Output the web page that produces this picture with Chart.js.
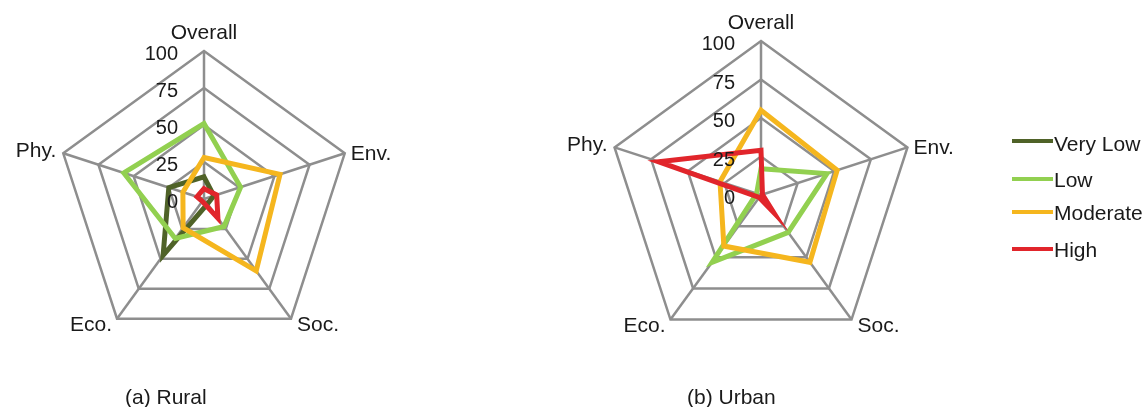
<!DOCTYPE html>
<html>
<head>
<meta charset="utf-8">
<script src="https://cdn.jsdelivr.net/npm/chart.js@4.4.1/dist/chart.umd.min.js"></script>
<style>
  html, body { margin: 0; padding: 0; background: #ffffff; }
  #wrap { position: relative; width: 1146px; height: 407px; overflow: hidden;
          font-family: "Liberation Sans", Arial, sans-serif; color: #1a1a1a; }
  #wrap canvas { position: absolute; left: 0; top: 0; pointer-events: none; }
  .caption { position: absolute; font-size: 21px; line-height: 21px; white-space: nowrap; }
  .legend-row { position: absolute; left: 1012px; height: 21px; font-size: 21px; line-height: 21px; white-space: nowrap; }
  .legend-row .swatch { position: absolute; left: 0; width: 41px; height: 4px; }
  .legend-row .name { position: absolute; left: 42px; top: 0; }
</style>
</head>
<body>
<div id="wrap">
  <canvas id="rural" width="1146" height="407"></canvas>
  <canvas id="urban" width="1146" height="407"></canvas>
  <div class="caption" style="left:125px; top:386px;">(a) Rural</div>
  <div class="caption" style="left:687px; top:386px;">(b) Urban</div>
  <div id="legend"></div>
</div>
<script>
// Axes of the pentagon, clockwise from the top
const categories = ['Overall', 'Env.', 'Soc.', 'Eco.', 'Phy.'];
const tickValues = [0, 25, 50, 75, 100];
const seriesNames = ['Very Low', 'Low', 'Moderate', 'High'];
const seriesColors = ['#4f6228', '#92d050', '#f5b61e', '#e1252b'];

// Rural scores by class
const ruralVeryLow = [15, 7, 4, 47, 25];
const ruralLow = [51, 26, 23, 33, 57];
const ruralModerate = [28, 54, 60, 24, 15];
const ruralHigh = [7, 9, 16, 2, 5];

// Urban scores by class (no Very Low class)
const urbanVeryLow = [null, null, null, null, null];
const urbanLow = [17, 45, 30, 54, 3];
const urbanModerate = [55, 52, 54, 41, 28];
const urbanHigh = [29, 1, 14, 2, 70];

const gridColor = '#8e8e8e';
const textColor = '#1a1a1a';
const textFont = '"Liberation Sans", Arial, sans-serif';

// Where each axis title sits relative to its outer vertex
const labelPlacement = [
  { align: 'center', dx: 0, dy: -12.5 },
  { align: 'left', dx: 6, dy: 6.5 },
  { align: 'left', dx: 6, dy: 12.6 },
  { align: 'right', dx: -5, dy: 12.6 },
  { align: 'right', dx: -7, dy: 3.5 }
];

// Axis titles and the 0–100 scale printed beside the vertical axis
const axisText = {
  id: 'axisText',
  afterDatasetsDraw(chart) {
    const s = chart.scales.r;
    const ctx = chart.ctx;
    ctx.save();
    ctx.fillStyle = textColor;
    ctx.textBaseline = 'alphabetic';
    ctx.font = '21px ' + textFont;
    categories.forEach((label, i) => {
      const p = s.getPointPosition(i, s.drawingArea);
      const o = labelPlacement[i];
      ctx.textAlign = o.align;
      ctx.fillText(label, p.x + o.dx, p.y + o.dy);
    });
    ctx.font = '20px ' + textFont;
    ctx.textAlign = 'right';
    tickValues.forEach(v => {
      const y = s.yCenter - s.getDistanceFromCenterForValue(v);
      ctx.fillText(String(v), s.xCenter - 26, y + 9);
    });
    ctx.restore();
  }
};

function makeDatasets(rows) {
  return rows.map((vals, i) => ({
    label: seriesNames[i],
    data: vals,
    borderColor: seriesColors[i],
    backgroundColor: seriesColors[i],
    borderWidth: 5,
    fill: false,
    tension: 0,
    pointRadius: 0,
    pointHoverRadius: 0,
    order: rows.length - i
  }));
}

function makeRadar(id, rows, padding) {
  return new Chart(document.getElementById(id), {
    type: 'radar',
    data: { labels: categories, datasets: makeDatasets(rows) },
    options: {
      responsive: false,
      animation: false,
      events: [],
      layout: { padding },
      plugins: { legend: { display: false }, tooltip: { enabled: false } },
      scales: {
        r: {
          min: 0,
          max: 100,
          ticks: { stepSize: 25, display: false },
          pointLabels: { display: false },
          grid: { color: gridColor, lineWidth: 2.5 },
          angleLines: { color: gridColor, lineWidth: 2.5 }
        }
      }
    },
    plugins: [axisText]
  });
}

makeRadar('rural', [ruralVeryLow, ruralLow, ruralModerate, ruralHigh],
  { left: 56, top: 51, right: 794, bottom: 60 });
makeRadar('urban', [urbanVeryLow, urbanLow, urbanModerate, urbanHigh],
  { left: 607, top: 41, right: 231, bottom: 58 });

// Legend on the right
const legendTops = [133, 169, 202, 239];
const legend = document.getElementById('legend');
seriesNames.forEach((name, i) => {
  const row = document.createElement('div');
  row.className = 'legend-row';
  row.style.top = legendTops[i] + 'px';
  const sw = document.createElement('div');
  sw.className = 'swatch';
  sw.style.background = seriesColors[i];
  sw.style.top = (i === 0 ? 6 : 8) + 'px';
  const tx = document.createElement('div');
  tx.className = 'name';
  tx.textContent = name;
  row.appendChild(sw);
  row.appendChild(tx);
  legend.appendChild(row);
});
</script>
</body>
</html>
